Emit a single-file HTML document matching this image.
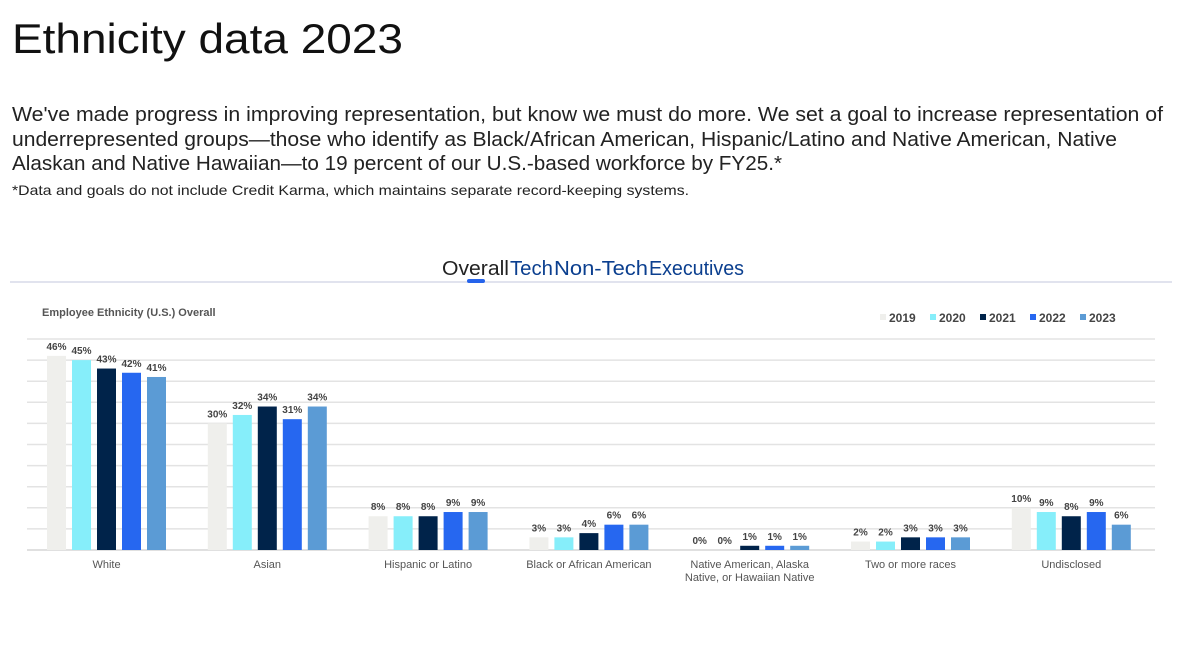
<!DOCTYPE html>
<html><head><meta charset="utf-8">
<style>
html,body{margin:0;padding:0;background:#fff;width:1200px;height:669px;overflow:hidden}
svg{display:block}
text{font-family:"Liberation Sans",sans-serif}
</style></head>
<body>
<svg id="page" width="1200" height="669" viewBox="0 0 1200 669" xmlns="http://www.w3.org/2000/svg">
  <text x="12" y="53" font-size="42" fill="#111" textLength="391" lengthAdjust="spacingAndGlyphs">Ethnicity data 2023</text>
  <g font-size="20" fill="#222">
    <text x="12" y="121" textLength="1151" lengthAdjust="spacingAndGlyphs">We've made progress in improving representation, but know we must do more. We set a goal to increase representation of</text>
    <text x="12" y="146" textLength="1105" lengthAdjust="spacingAndGlyphs">underrepresented groups—those who identify as Black/African American, Hispanic/Latino and Native American, Native</text>
    <text x="12" y="170" textLength="770" lengthAdjust="spacingAndGlyphs">Alaskan and Native Hawaiian—to 19 percent of our U.S.-based workforce by FY25.*</text>
  </g>
  <text x="12" y="195" font-size="14" fill="#222" textLength="677" lengthAdjust="spacingAndGlyphs">*Data and goals do not include Credit Karma, which maintains separate record-keeping systems.</text>

  <g font-size="20">
    <text x="442" y="275" fill="#222" textLength="67" lengthAdjust="spacingAndGlyphs">Overall</text>
    <text x="510" y="275" fill="#0b3f8f" textLength="43" lengthAdjust="spacingAndGlyphs">Tech</text>
    <text x="554" y="275" fill="#0b3f8f" textLength="94" lengthAdjust="spacingAndGlyphs">Non-Tech</text>
    <text x="649" y="275" fill="#0b3f8f" textLength="95" lengthAdjust="spacingAndGlyphs">Executives</text>
    <rect x="10" y="281" width="1162" height="2" fill="#e1e3ee"/>
    <rect x="467" y="279" width="18" height="4" rx="2" fill="#2563eb"/>
  </g>

  <text x="42" y="316" font-size="11" font-weight="bold" fill="#555">Employee Ethnicity (U.S.) Overall</text>
  <g id="chart"></g>
</svg>
<script>
const categories = ["White","Asian","Hispanic or Latino","Black or African American","Native American, Alaska|Native, or Hawaiian Native","Two or more races","Undisclosed"];
const years = ["2019","2020","2021","2022","2023"];
const v2019 = [46,30,8,3,0,2,10];
const v2020 = [45,32,8,3,0,2,9];
const v2021 = [43,34,8,4,1,3,8];
const v2022 = [42,31,9,6,1,3,9];
const v2023 = [41,34,9,6,1,3,6];
const series = [v2019,v2020,v2021,v2022,v2023];
const colors = ["#efefec","#86eefa","#00234a","#2667f0","#5b9bd5"];
const gridTicks = [0,5,10,15,20,25,30,35,40,45,50];

const NS = "http://www.w3.org/2000/svg";
const g = document.getElementById("chart");
const x0 = 27, x1 = 1155, yBase = 550, yTop = 339, yMax = 50;
const y = v => yBase - (v / yMax) * (yBase - yTop);
const groupStart = 47, groupStep = 160.8, barStep = 25, barW = 19;
const xBar = (ci, si) => groupStart + ci * groupStep + si * barStep;

function el(tag, attrs, parent) {
  const e = document.createElementNS(NS, tag);
  for (const k in attrs) e.setAttribute(k, attrs[k]);
  (parent || g).appendChild(e);
  return e;
}

gridTicks.forEach(t => {
  const l = el("line", {x1: x0, x2: x1, y1: y(t), y2: y(t), stroke: t === 0 ? "#d6d6d6" : "#e3e3e3", "stroke-width": 1.5});
  
  
});

series.forEach((vals, si) => {
  vals.forEach((v, ci) => {
    const bx = xBar(ci, si);
    const r = el("rect", {x: bx, y: y(v), width: barW, height: yBase - y(v), fill: colors[si]});
    
    
    const t = el("text", {x: bx + barW / 2, y: y(v) - 6, "text-anchor": "middle", "font-size": 10, "font-weight": "bold", fill: "#444"});
    t.textContent = v + "%";
    
    
  });
});

categories.forEach((c, ci) => {
  const cx = xBar(ci, 2) + barW / 2;
  c.split("|").forEach((line, li) => {
    const t = el("text", {x: cx, y: 568 + li * 13, "text-anchor": "middle", "font-size": 11, fill: "#555"});
    t.textContent = line;
    
    
  });
});

const legendX = [880, 930, 980, 1030, 1080];
years.forEach((yr, si) => {
  const sw = el("rect", {x: legendX[si], y: 314, width: 6, height: 6, fill: colors[si]});
  
  
  const t = el("text", {x: legendX[si] + 9, y: 322, "font-size": 12, "font-weight": "bold", fill: "#444"});
  t.textContent = yr;
  
  
});
</script>
</body></html>
